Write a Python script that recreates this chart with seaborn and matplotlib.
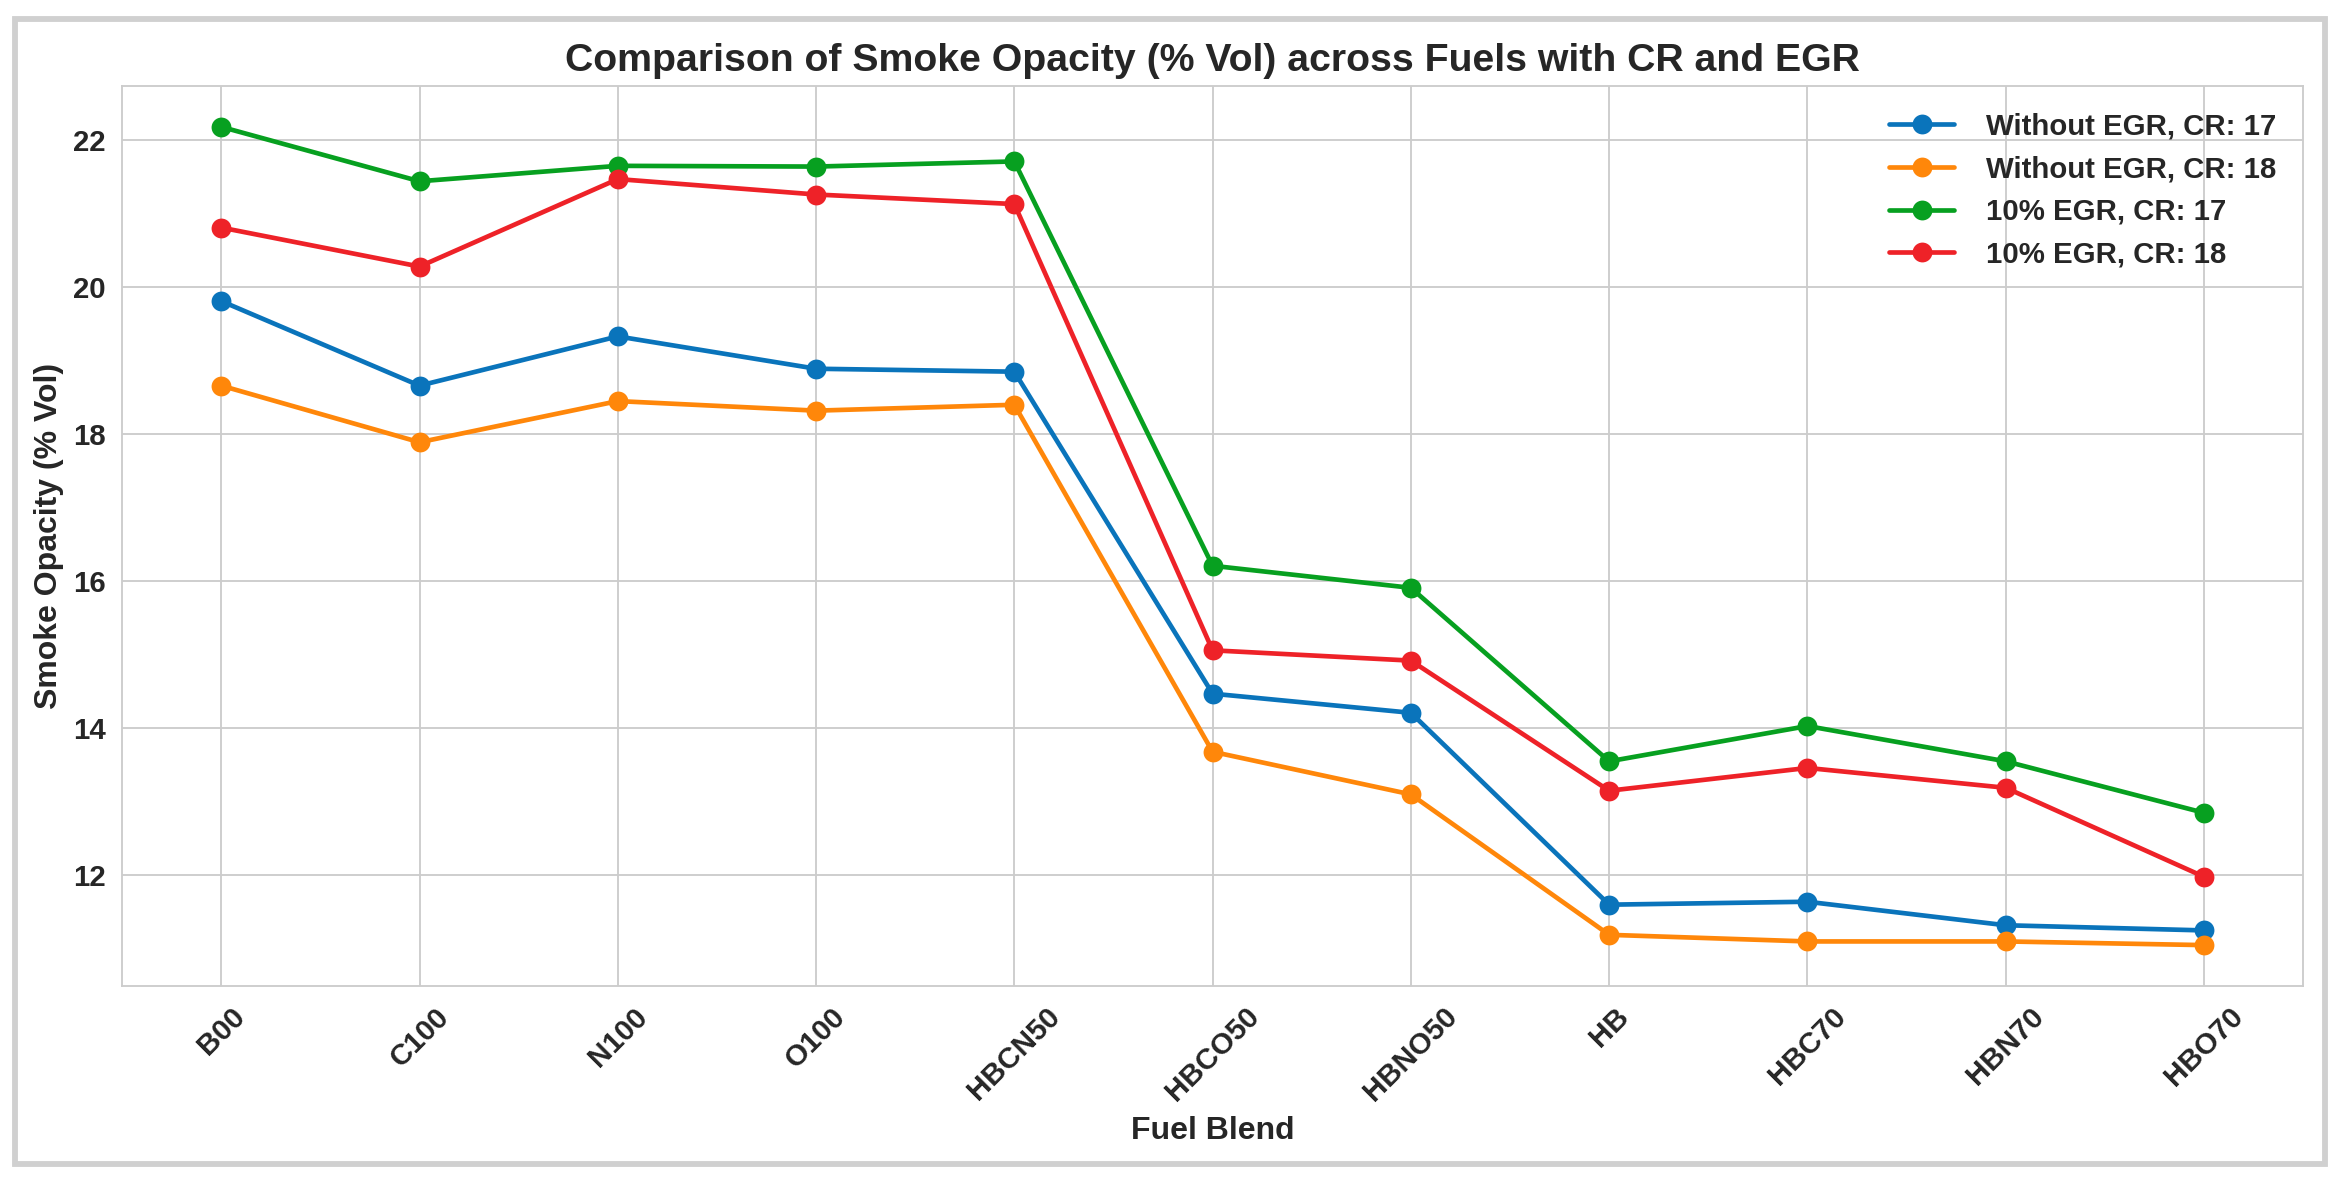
#!/usr/bin/env python3
"""
Smoke opacity comparison across fuel blends (CR / EGR)
"""

import pandas as pd
import matplotlib
matplotlib.use('Agg')
import matplotlib.pyplot as plt
import seaborn as sns
from matplotlib.patches import Rectangle

# 데이터
fuels = ['B00', 'C100', 'N100', 'O100', 'HBCN50', 'HBCO50', 'HBNO50',
         'HB', 'HBC70', 'HBN70', 'HBO70']

no_egr_cr17 = [19.81, 18.66, 19.33, 18.89, 18.85, 14.47, 14.21, 11.60, 11.64, 11.32, 11.25]
no_egr_cr18 = [18.66, 17.89, 18.45, 18.32, 18.40, 13.68, 13.10, 11.19, 11.10, 11.10, 11.05]
egr10_cr17 = [22.18, 21.44, 21.65, 21.64, 21.71, 16.21, 15.91, 13.55, 14.03, 13.55, 12.85]
egr10_cr18 = [20.81, 20.28, 21.47, 21.26, 21.13, 15.06, 14.92, 13.15, 13.46, 13.19, 11.98]

labels = ['Without EGR, CR: 17', 'Without EGR, CR: 18',
          '10% EGR, CR: 17', '10% EGR, CR: 18']
colors = ['#0a74bb', '#ff870a', '#07a020', '#ee2228']

sns.set_style('whitegrid')
plt.rcParams['font.family'] = ['Liberation Sans', 'DejaVu Sans']
plt.rcParams['font.weight'] = 'bold'

rows = []
for lab, vals in zip(labels, [no_egr_cr17, no_egr_cr18, egr10_cr17, egr10_cr18]):
    for f, v in zip(fuels, vals):
        rows.append({'Fuel Blend': f, 'Opacity': v, 'Condition': lab})
df = pd.DataFrame(rows)

fig = plt.figure(figsize=(14.0, 7.039), dpi=168.07)
ax = fig.add_axes([0.0519, 0.1665, 0.9269, 0.7608])

sns.lineplot(data=df, x='Fuel Blend', y='Opacity', hue='Condition',
             hue_order=labels, palette=colors, marker='o', markersize=8.5,
             markeredgewidth=0, linewidth=2, ax=ax, sort=False)

ax.set_title('Comparison of Smoke Opacity (% Vol) across Fuels with CR and EGR',
             fontsize=16.8, fontweight='bold', pad=6.5)
ax.set_xlabel('Fuel Blend', fontsize=13.7, fontweight='bold')
ax.set_ylabel('Smoke Opacity (% Vol)', fontsize=13.7, fontweight='bold')
ax.set_yticks([12, 14, 16, 18, 20, 22])
ax.tick_params(axis='both', labelsize=12.6)
for lbl in ax.get_xticklabels():
    lbl.set_rotation(45)
    lbl.set_fontweight('bold')
for lbl in ax.get_yticklabels():
    lbl.set_fontweight('bold')

ax.legend(loc='upper right', frameon=False, handlelength=2.2,
          handletextpad=1.1, prop={'weight': 'bold', 'size': 12.6})

# 바깥 테두리
fig.patches.append(Rectangle((0.0064, 0.016), 0.9817, 0.968,
                             transform=fig.transFigure, fill=False,
                             edgecolor='#d0d0d0', linewidth=2.5))

plt.savefig('out.png', dpi=168.07)
plt.close()
